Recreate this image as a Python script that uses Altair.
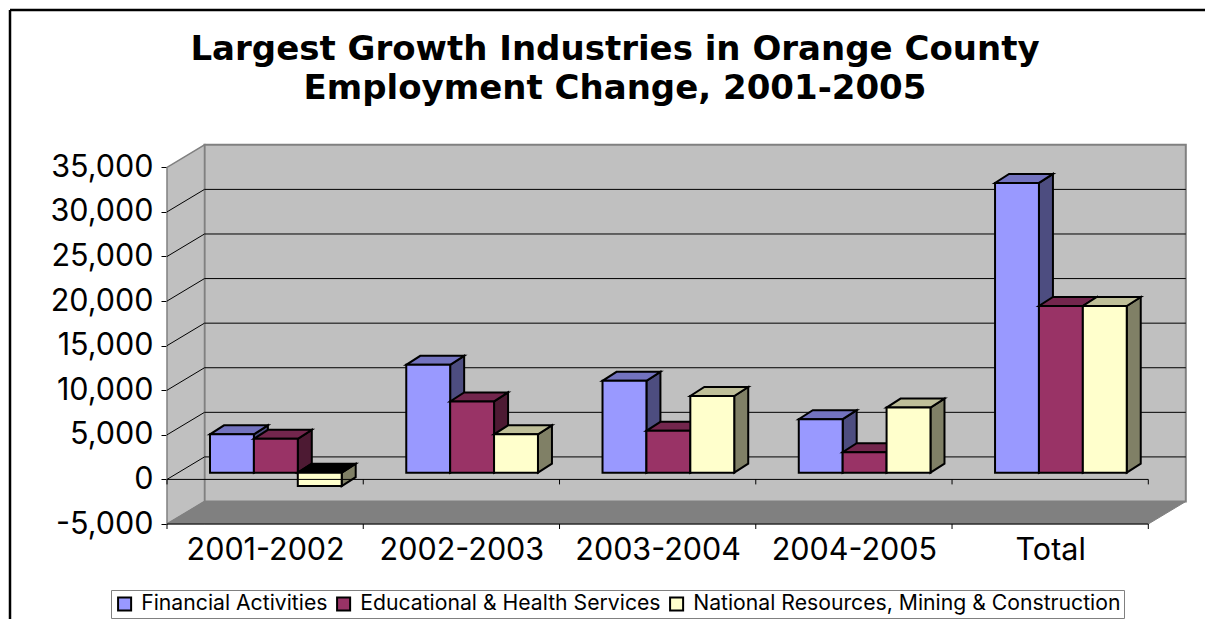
import altair as alt
import pandas as pd

TITLE_LINES = ["Largest Growth Industries in Orange County", "Employment Change, 2001-2005"]
CATEGORIES = ["2001-2002", "2002-2003", "2003-2004", "2004-2005", "Total"]
SERIES = ["Financial Activities", "Educational & Health Services",
          "National Resources, Mining & Construction"]
FINANCIAL = [4300, 12100, 10300, 6000, 32500]
EDUCATION = [3800, 8000, 4700, 2300, 18700]
NATIONAL = [-1500, 4300, 8600, 7300, 18700]
VALUES = [FINANCIAL, EDUCATION, NATIONAL]
Y_TICKS = [-5000, 0, 5000, 10000, 15000, 20000, 25000, 30000, 35000]

FRONT = ["#9999FF", "#993366", "#FFFFCC"]
TOP = ["#7373BF", "#73264D", "#BFBF99"]
SIDE = ["#4D4D80", "#4D1A33", "#808066"]
FONT = "Inter"
TITLE_FONT = "DejaVu Sans"

PX_X = 196.26          # pixels per category
PX_Y = 0.008917        # pixels per employment unit
W, H = 1019, 380
WALL_DX = 37.5 / PX_X
WALL_DY = 22.5 / PX_Y
BAR_X0 = 43.0 / PX_X
BAR_W = 43.9 / PX_X
BAR_DX = 14.0 / PX_X
BAR_DY = 9.0 / PX_Y
BASE_Y = 6.7 / PX_Y
N = len(CATEGORIES)
LOW, HIGH = Y_TICKS[0], Y_TICKS[-1]

xs = alt.Scale(domain=[0, W / PX_X], nice=False, zero=False)
ys = alt.Scale(domain=[LOW, LOW + H / PX_Y], nice=False, zero=False)
labels_expr = "{" + ",".join(f"'{i + 0.5}':'{c}'" for i, c in enumerate(CATEGORIES)) + "}[toString(datum.value)]"
X_AXIS = alt.Axis(
    values=[i + 0.5 for i in range(N)], labelExpr=labels_expr, title=None, grid=False, domain=False,
    ticks=False, labelFont=FONT, labelFontSize=30.5, labelColor="#000000", labelPadding=11, labelAngle=0,
    labelBaseline="top", labelFlush=False, labelOverlap=False)
Y_AXIS = alt.Axis(
    values=Y_TICKS, labelExpr="replace(format(datum.value, ',.0f'), '\u2212', '-')", title=None, grid=False,
    domain=False, tickColor="#000000", tickSize=6, tickWidth=1, labelFont=FONT, labelFontSize=30.5,
    labelColor="#000000", labelPadding=8, labelOverlap=False)
X = alt.X("x:Q", scale=xs, axis=X_AXIS)
Y = alt.Y("y:Q", scale=ys, axis=Y_AXIS)
Y2 = alt.Y2("y2:Q")
X2 = alt.X2("x2:Q")

layers = []

# back wall, left wall, floor
back = pd.DataFrame({"x": [WALL_DX], "x2": [N + WALL_DX], "y": [LOW + WALL_DY], "y2": [HIGH + WALL_DY]})
layers.append(alt.Chart(back).mark_rect(fill="#C0C0C0", stroke="#808080", strokeWidth=2)
              .encode(x=X, x2=X2, y=Y, y2=Y2))
left = pd.DataFrame({"x": [0, WALL_DX], "y": [LOW, LOW + WALL_DY], "y2": [HIGH, HIGH + WALL_DY]})
layers.append(alt.Chart(left).mark_area(fill="#C0C0C0", stroke="#808080", strokeWidth=1.5, opacity=1)
              .encode(x=X, y=Y, y2=Y2))
floor = pd.DataFrame({"x": [0, WALL_DX, N, N + WALL_DX],
                      "y": [LOW, LOW, LOW, LOW + WALL_DY],
                      "y2": [LOW, LOW + WALL_DY, LOW + WALL_DY, LOW + WALL_DY]})
layers.append(alt.Chart(floor).mark_area(fill="#808080", stroke="#808080", strokeWidth=1, opacity=1)
              .encode(x=X, y=Y, y2=Y2))

# gridlines on the back wall and the slants on the left wall
grid_v = [v for v in Y_TICKS if LOW < v < HIGH]
grid = pd.DataFrame({"x": [WALL_DX] * len(grid_v), "x2": [N + WALL_DX] * len(grid_v),
                     "y": [v + WALL_DY for v in grid_v]})
layers.append(alt.Chart(grid).mark_rule(color="#000000", strokeWidth=1).encode(x=X, x2=X2, y=Y))
slant = pd.DataFrame([{"v": v, "x": x, "y": v + d}
                      for v in grid_v for x, d in ((0, 0), (WALL_DX, WALL_DY))])
layers.append(alt.Chart(slant).mark_line(color="#000000", strokeWidth=1)
              .encode(x=X, y=Y, detail="v:N"))

# bars: side, top and front of each series, painted left to right
for s, (name, vals) in enumerate(zip(SERIES, VALUES)):
    side_rows, top_rows, front_rows = [], [], []
    for c, v in enumerate(vals):
        x0 = c + BAR_X0 + s * BAR_W
        x1 = x0 + BAR_W
        hi = max(v, 0) + BASE_Y
        lo = min(v, 0) + BASE_Y
        side_rows += [{"b": c, "x": x1, "y": lo, "y2": hi},
                      {"b": c, "x": x1 + BAR_DX, "y": lo + BAR_DY, "y2": hi + BAR_DY}]
        top_rows += [{"b": c, "neg": v < 0, "x": x0, "y": hi, "y2": hi},
                     {"b": c, "neg": v < 0, "x": x0 + BAR_DX, "y": hi, "y2": hi + BAR_DY},
                     {"b": c, "neg": v < 0, "x": x1, "y": hi, "y2": hi + BAR_DY},
                     {"b": c, "neg": v < 0, "x": x1 + BAR_DX, "y": hi + BAR_DY, "y2": hi + BAR_DY}]
        front_rows.append({"series": name, "x": x0, "x2": x1, "y": lo, "y2": hi})
    layers.append(alt.Chart(pd.DataFrame(side_rows)).mark_area(
        fill=SIDE[s], stroke="#000000", strokeWidth=2, opacity=1).encode(x=X, y=Y, y2=Y2, detail="b:N"))
    tops = pd.DataFrame(top_rows)
    layers.append(alt.Chart(tops[~tops.neg]).mark_area(
        fill=TOP[s], stroke="#000000", strokeWidth=2, opacity=1).encode(x=X, y=Y, y2=Y2, detail="b:N"))
    if tops.neg.any():
        layers.append(alt.Chart(tops[tops.neg]).mark_area(
            fill="#000000", stroke="#000000", strokeWidth=2, opacity=1).encode(x=X, y=Y, y2=Y2, detail="b:N"))
    layers.append(alt.Chart(pd.DataFrame(front_rows)).mark_rect(
        stroke="#000000", strokeWidth=2, opacity=1).encode(
        x=X, x2=X2, y=Y, y2=Y2,
        color=alt.Color("series:N", scale=alt.Scale(domain=SERIES, range=FRONT), legend=alt.Legend(
            title=None, orient="none", legendX=-56, legendY=446, direction="horizontal", columns=3,
            fillColor="#FFFFFF", strokeColor="#808080", padding=3, columnPadding=5,
            symbolType="square", symbolSize=170, symbolStrokeColor="#000000", symbolStrokeWidth=2,
            symbolOpacity=1, labelFont=FONT, labelFontSize=21.2, labelColor="#000000", labelLimit=600,
            labelOffset=6))))

# zero line, bottom edge and their category ticks (drawn over the bars)
edge = pd.DataFrame({"x": [0, 0], "x2": [N, N], "y": [0, LOW]})
layers.append(alt.Chart(edge).mark_rule(color="#000000", strokeWidth=1).encode(x=X, x2=X2, y=Y))
ticks = pd.DataFrame([{"x": float(i), "y": b, "y2": b - 5 / PX_Y} for i in range(N + 1) for b in (0, LOW)])
layers.append(alt.Chart(ticks).mark_rule(color="#000000", strokeWidth=1).encode(x=X, y=Y, y2=Y2))

# chart frame
one = pd.DataFrame({"x": [0.0], "y": [0.0]})
frame_top = alt.Chart(one).mark_rule(color="#000000", strokeWidth=2.5).encode(
    x=alt.value(-157), x2=alt.value(1038), y=alt.value(-134))
frame_left = alt.Chart(one).mark_rule(color="#000000", strokeWidth=2.5).encode(
    x=alt.value(-157), y=alt.value(-134), y2=alt.value(475))
layers += [frame_top, frame_left]

# two-line heading
for line, baseline_y in zip(TITLE_LINES, (-84, -45)):
    layers.append(alt.Chart(pd.DataFrame({"t": [line]})).mark_text(
        font=TITLE_FONT, fontSize=34, fontWeight="bold", color="#000000", align="center", baseline="alphabetic").encode(
        x=alt.value(448), y=alt.value(baseline_y), text="t:N"))

chart = alt.layer(*layers).resolve_scale(color="shared").properties(
    width=W, height=H,
    autosize=alt.AutoSizeParams(type="none"),
    padding={"left": 159, "top": 136, "right": 19, "bottom": 95},
    background="#FFFFFF",
).configure_view(stroke=None)

chart.save("out.html", embed_options={"renderer": "svg", "actions": False})
